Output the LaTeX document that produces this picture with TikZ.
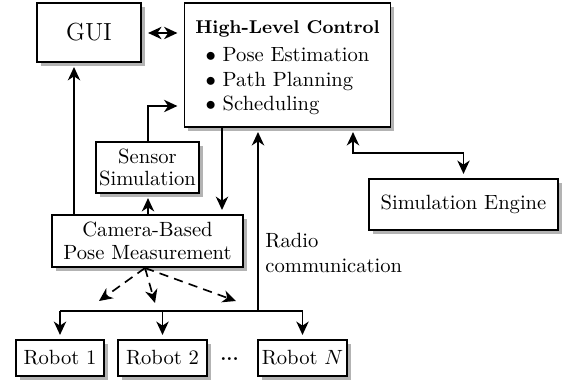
\documentclass[tikz,border=0pt]{standalone}
\usetikzlibrary{arrows.meta,shadows,calc}
\begin{document}
\begin{tikzpicture}[x=0.4855pt,y=-0.4855pt,
  box/.style={draw,line width=0.9pt,fill=white,align=center,inner sep=1pt,
    drop shadow={shadow xshift=1.8pt,shadow yshift=-1.8pt,opacity=0.6}},
  conn/.style={line width=0.8pt},
  tip/.style={-{Stealth[length=6.5pt,width=6pt,inset=2pt]}},
  dtip/.style={{Stealth[length=6.5pt,width=6pt,inset=2pt]}-{Stealth[length=6.5pt,width=6pt,inset=2pt]}},
  dashline/.style={dash pattern=on 4.5pt off 3pt}]
\useasboundingbox (0,0) rectangle (569,385);
% nodes
\node[box,minimum width=50.5pt,minimum height=28.6pt,font=\large] (gui) at (89,32.5) {GUI};
\node[box,minimum width=100pt,minimum height=60.2pt] (hlc) at (287.5,65)
  {\rule{0pt}{10.5pt}{\small\bfseries High-Level Control}\\[2.5pt]
   \begin{tabular}{@{}l@{}}$\bullet$ Pose Estimation\\ $\bullet$ Path Planning\\ $\bullet$ Scheduling\end{tabular}};
\node[box,minimum width=50pt,minimum height=24.8pt] (sens) at (147.5,167.5) {Sensor\\[-1pt]Simulation};
\node[box,minimum width=92.7pt,minimum height=25.2pt] (cam) at (147.5,241) {Camera-Based\\[-1pt]Pose Measurement};
\node[box,minimum width=91.8pt,minimum height=24.8pt] (se) at (463.5,204.5) {Simulation Engine};
\node[box,minimum width=42.7pt,minimum height=17.5pt] (r1) at (60,358) {Robot 1};
\node[box,minimum width=43.2pt,minimum height=17.5pt] (r2) at (162.5,358) {Robot 2};
\node[box,minimum width=43.2pt,minimum height=17.5pt] (rn) at (302.5,358) {Robot $N$};
\node[inner sep=0pt,font=\small\bfseries] (dots) at (229.5,359) {...};
\node[anchor=base west,align=left,inner sep=0pt] (radio) at (265,272.5) {Radio\\communication};
% coordinates
\coordinate (bus) at (258,311);
\coordinate (guiup) at (74,215);
\coordinate (sensup) at (148,0);
\coordinate (sturn) at (148,106);
\coordinate (hlcdown) at (222,0);
\coordinate (seturn) at (353,153);
\coordinate (cs) at (145,268);
\coordinate (d1) at (99,301);
\coordinate (d2) at (155,303);
\coordinate (d3) at (236,301);
% connectors
\draw[conn,dtip,shorten <=3pt,shorten >=3pt] (gui.east |- 0,33) -- (hlc.west |- 0,33);
\draw[conn,tip,shorten >=2pt] (guiup) -- (guiup |- gui.south);
\draw[conn,tip,shorten >=2pt] (cam.north -| sensup) -- (sens.south -| sensup);
\draw[conn,tip,shorten >=3pt] (sens.north -| sensup) -- (sturn) -- (sturn -| hlc.west);
\draw[conn,tip,shorten >=2pt] (hlc.south -| hlcdown) -- (cam.north -| hlcdown);
\draw[conn,tip,shorten >=2pt] (bus) -- (bus |- hlc.south);
\draw[conn,dtip,shorten <=2pt,shorten >=2pt] (hlc.south -| seturn) -- (seturn) -- (seturn -| se.north) -- (se.north);
\draw[conn] (bus -| r1.north) -- (bus -| rn.north);
\draw[conn,tip,shorten >=2pt] (bus -| r1.north) -- (r1.north);
\draw[conn,tip,shorten >=2pt] (bus -| r2.north) -- (r2.north);
\draw[conn,tip,shorten >=2pt] (bus -| rn.north) -- (rn.north);
\draw[conn,tip,dashline] (cs) -- (d1);
\draw[conn,tip,dashline] (cs) -- (d2);
\draw[conn,tip,dashline] (cs) -- (d3);
\end{tikzpicture}
\end{document}
